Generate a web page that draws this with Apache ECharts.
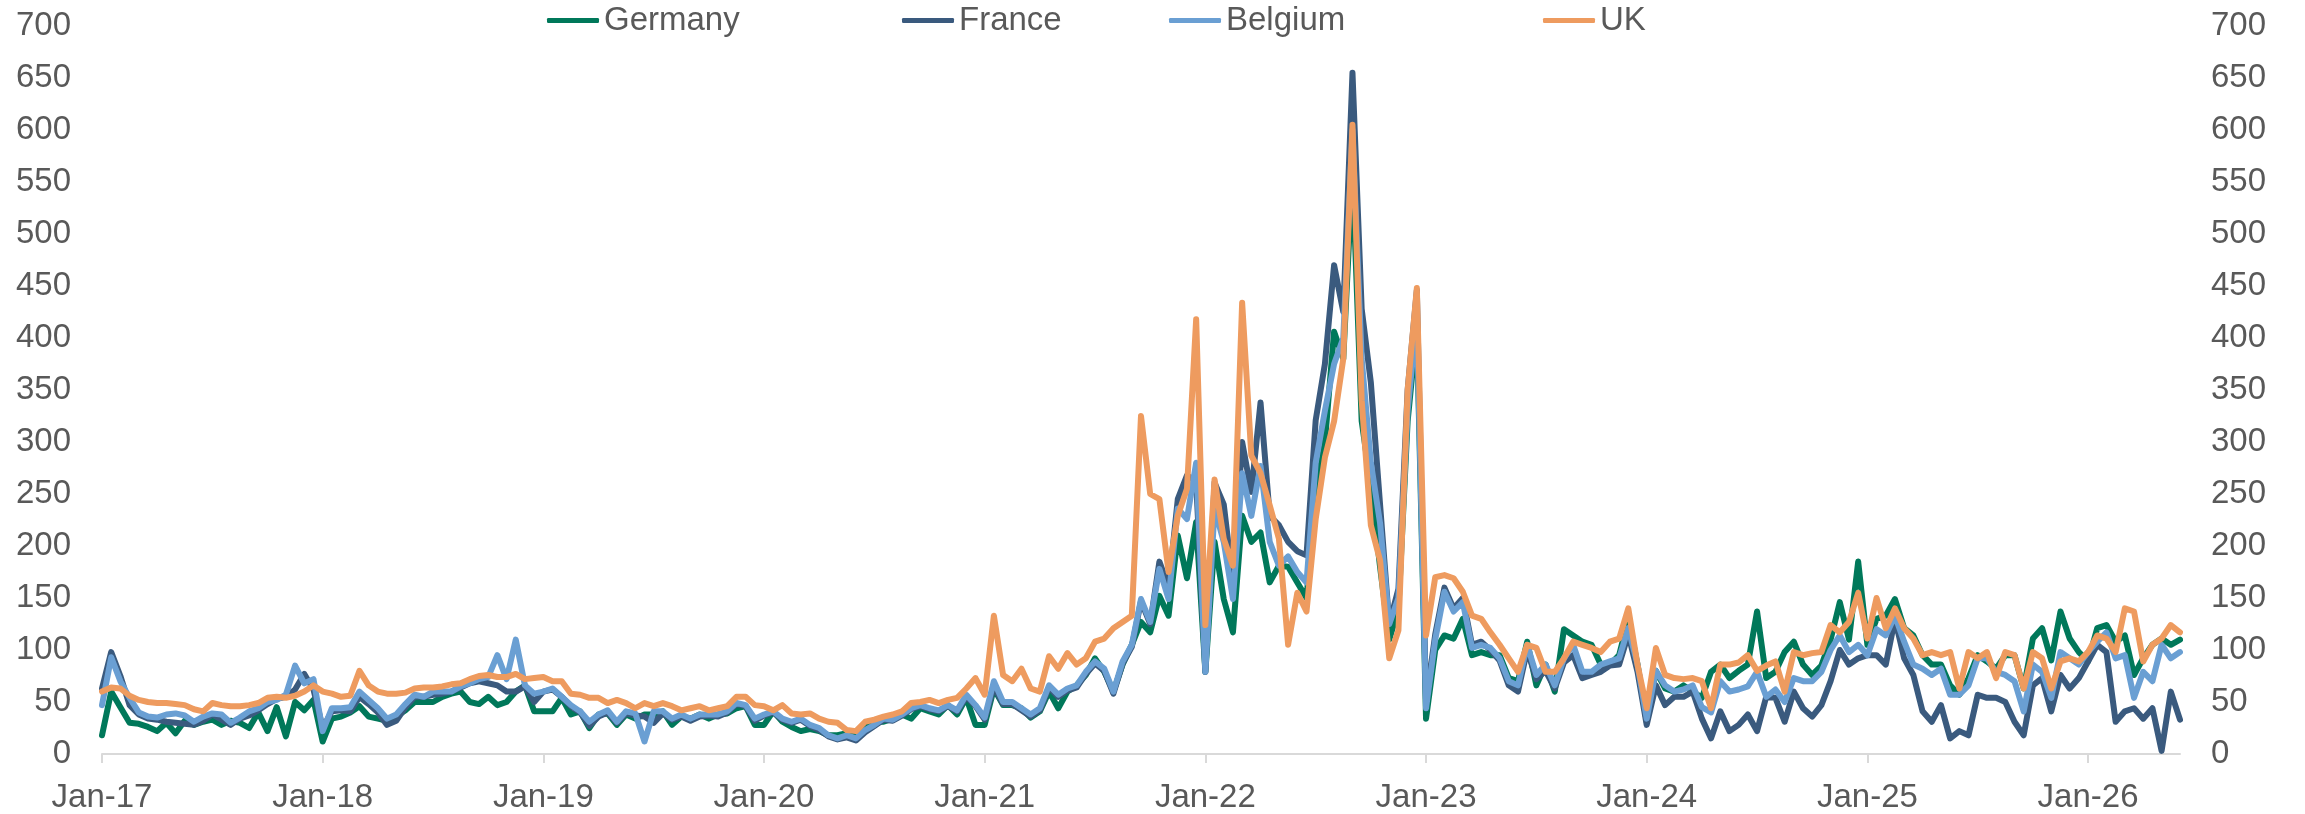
<!DOCTYPE html>
<html>
<head>
<meta charset="utf-8">
<title>Germany, France, Belgium, UK</title>
<script src="https://cdn.jsdelivr.net/npm/echarts@6/dist/echarts.min.js"></script>
<style>
    html, body { margin: 0; padding: 0; background: #ffffff; }
    #chart { width: 2305px; height: 814px; }
</style>
</head>
<body>
<div id="chart"></div>
<script>
// readings taken twice a month, first one on 1 Jan 2017
var startYear = 2017;
var perYear = 24;

var names = ['Germany', 'France', 'Belgium', 'UK'];
var yearLabels = ['Jan-17', 'Jan-18', 'Jan-19', 'Jan-20', 'Jan-21', 'Jan-22', 'Jan-23', 'Jan-24', 'Jan-25', 'Jan-26'];

var germany = [
    18, 60, 45, 30, 29, 26, 22, 30, 20, 32, 28, 31, 33, 28, 32, 30, 25, 40, 22, 45, 17, 50, 42, 52,
    12, 34, 36, 40, 46, 36, 34, 32, 36, 42, 50, 50, 50, 55, 58, 60, 50, 48, 55, 47, 50, 60, 66, 41,
    41, 41, 54, 38, 41, 25, 38, 39, 28, 38, 34, 38, 38, 41, 28, 36, 34, 38, 34, 38, 39, 44, 46, 28,
    28, 41, 31, 26, 22, 24, 22, 18, 18, 20, 20, 26, 31, 31, 34, 38, 34, 44, 41, 38, 47, 38, 54, 28,
    28, 63, 47, 47, 44, 35, 41, 60, 44, 60, 66, 76, 92, 79, 60, 86, 105, 127, 117, 152, 133, 210, 169, 223,
    79, 204, 149, 117, 229, 204, 213, 165, 181, 180, 165, 150, 250, 300, 406, 380, 560, 320, 258, 180, 110, 140, 320, 410,
    34, 100, 114, 111, 130, 95, 98, 95, 95, 73, 70, 108, 66, 86, 60, 120, 114, 108, 105, 86, 86, 95, 130, 86,
    31, 80, 63, 60, 66, 60, 54, 79, 86, 73, 80, 86, 137, 73, 79, 98, 108, 86, 76, 85, 110, 146, 110, 185,
    105, 130, 133, 149, 121, 114, 95, 86, 86, 66, 57, 73, 95, 89, 82, 95, 95, 63, 111, 121, 90, 137, 111, 98,
    89, 121, 124, 108, 114, 76, 92, 105, 111, 105, 110
];
var france = [
    63, 98, 75, 47, 38, 34, 33, 31, 30, 29, 28, 32, 38, 33, 28, 34, 37, 42, 48, 53, 55, 62, 77, 62,
    25, 41, 42, 41, 55, 48, 40, 28, 32, 45, 55, 55, 57, 58, 60, 64, 68, 70, 68, 66, 60, 60, 65, 50,
    60, 62, 55, 46, 40, 27, 36, 40, 30, 39, 37, 36, 30, 39, 33, 36, 32, 36, 37, 36, 40, 48, 46, 32,
    37, 40, 33, 30, 33, 27, 23, 17, 14, 16, 13, 21, 27, 33, 32, 37, 43, 46, 43, 41, 46, 41, 55, 46,
    33, 65, 48, 48, 42, 36, 42, 64, 55, 61, 64, 77, 87, 80, 58, 87, 103, 147, 125, 185, 160, 245, 268, 262,
    79, 261, 240, 165, 300, 252, 338, 229, 220, 204, 195, 191, 321, 375, 470, 425, 655, 428, 357, 240, 125, 159, 350, 446,
    50, 115, 160, 140, 150, 105, 108, 100, 90, 66, 60, 100, 72, 80, 63, 88, 95, 73, 76, 79, 85, 86, 115, 79,
    28, 66, 47, 55, 55, 60, 34, 15, 41, 22, 28, 38, 22, 55, 54, 31, 60, 44, 36, 47, 70, 100, 86, 92,
    95, 95, 86, 130, 92, 76, 41, 31, 47, 15, 22, 18, 57, 54, 54, 50, 31, 18, 66, 73, 41, 76, 63, 73,
    89, 105, 98, 31, 41, 44, 34, 44, 3, 60, 33
];
var belgium = [
    47, 93, 70, 54, 40, 36, 35, 38, 39, 37, 31, 36, 39, 38, 30, 35, 41, 44, 50, 52, 57, 85, 68, 72,
    22, 44, 44, 45, 60, 52, 44, 34, 38, 48, 57, 55, 60, 60, 60, 65, 68, 72, 74, 95, 72, 110, 66, 58,
    60, 63, 55, 47, 41, 31, 38, 42, 31, 41, 39, 12, 41, 41, 34, 38, 34, 38, 38, 38, 41, 49, 47, 34,
    38, 41, 34, 31, 34, 28, 25, 18, 15, 18, 15, 23, 28, 34, 33, 38, 44, 47, 44, 42, 47, 42, 57, 47,
    35, 70, 50, 50, 44, 38, 44, 66, 57, 63, 66, 79, 89, 82, 60, 89, 105, 149, 127, 178, 149, 236, 226, 280,
    79, 236, 204, 149, 270, 229, 277, 204, 181, 190, 175, 165, 280, 330, 375, 400, 600, 380, 280, 222, 125, 150, 330, 420,
    44, 110, 156, 137, 146, 102, 105, 102, 92, 70, 66, 105, 76, 86, 66, 92, 105, 79, 79, 86, 89, 92, 121, 86,
    34, 80, 66, 60, 62, 66, 45, 40, 70, 60, 62, 65, 79, 55, 62, 50, 73, 70, 70, 79, 100, 114, 98, 105,
    95, 120, 114, 133, 108, 86, 82, 76, 82, 57, 57, 66, 92, 92, 79, 76, 70, 41, 86, 79, 54, 98, 92, 86,
    98, 108, 117, 92, 95, 54, 79, 70, 105, 92, 98
];
var uk = [
    60, 64, 63, 56, 52, 50, 49, 49, 48, 47, 43, 41, 49, 47, 46, 46, 47, 49, 54, 55, 54, 56, 60, 66,
    60, 58, 55, 56, 80, 66, 60, 58, 58, 59, 63, 64, 64, 65, 67, 68, 72, 75, 76, 74, 74, 77, 72, 73,
    74, 70, 70, 58, 57, 54, 54, 49, 52, 49, 44, 49, 46, 49, 46, 42, 44, 46, 42, 44, 46, 55, 55, 47,
    46, 42, 47, 39, 38, 39, 34, 31, 30, 23, 22, 31, 33, 36, 38, 41, 49, 50, 52, 49, 52, 54, 63, 73,
    57, 133, 76, 70, 82, 63, 60, 94, 82, 97, 86, 92, 108, 111, 121, 127, 133, 325, 250, 245, 175, 229, 255, 418,
    124, 264, 207, 181, 434, 287, 270, 239, 207, 105, 155, 137, 226, 285, 320, 380, 605, 340, 220, 186, 92, 119, 350, 448,
    114, 170, 172, 169, 156, 133, 130, 117, 105, 92, 79, 105, 102, 79, 79, 92, 108, 105, 102, 98, 108, 111, 140, 86,
    44, 102, 76, 73, 72, 73, 70, 44, 86, 86, 88, 95, 80, 85, 89, 60, 98, 95, 97, 98, 124, 117, 127, 155,
    111, 150, 121, 140, 121, 111, 95, 98, 95, 98, 63, 98, 92, 98, 73, 98, 95, 63, 98, 92, 63, 89, 92, 89,
    98, 114, 111, 98, 140, 137, 89, 105, 111, 124, 117
];

var colors = ['#00785a', '#3a5a7e', '#6a9fd3', '#ee9b5f'];
var legendLeft = [547, 902, 1169, 1543];
var font = '"Liberation Sans", Arial, sans-serif';
var grey = '#595959';

var program = {
    // x is the date as a fractional year
    toPoints: function (list) {
        var out = [];
        for (var i = 0; i < list.length; i++) {
            out.push([startYear + i / perYear, list[i]]);
        }
        return out;
    },
    legendItem: function (i) {
        return {
            data: [names[i]],
            left: legendLeft[i],
            top: 4,
            padding: 0,
            icon: 'roundRect',
            itemWidth: 52,
            itemHeight: 5,
            textStyle: { fontFamily: font, fontSize: 33, color: grey }
        };
    },
    yAxisAt: function (side) {
        return {
            type: 'value',
            position: side,
            min: 0,
            max: 700,
            interval: 50,
            axisLine: { show: false },
            axisTick: { show: false },
            splitLine: { show: false },
            axisLabel: { margin: 31, fontFamily: font, fontSize: 33, color: grey }
        };
    },
    show: function () {
        var myChart = echarts.init(document.getElementById('chart'));
        var lists = [germany, france, belgium, uk];
        var series = [], legends = [];
        for (var i = 0; i < lists.length; i++) {
            legends.push(program.legendItem(i));
            series.push({
                name: names[i],
                type: 'line',
                data: program.toPoints(lists[i]),
                showSymbol: false,
                color: colors[i],
                lineStyle: { width: 6, cap: 'round', join: 'round' }
            });
        }
        var option = {
            animation: false,
            backgroundColor: '#ffffff',
            legend: legends,
            grid: { left: 102, right: 125, top: 26, bottom: 58 },
            xAxis: {
                type: 'value',
                min: startYear,
                max: startYear + (uk.length - 1) / perYear,
                interval: 1,
                splitLine: { show: false },
                axisLine: { lineStyle: { color: '#d9d9d9', width: 2 } },
                axisTick: { show: true, length: 9, lineStyle: { color: '#d9d9d9', width: 2 } },
                axisLabel: {
                    margin: 27,
                    fontFamily: font,
                    fontSize: 33,
                    color: grey,
                    formatter: function (v) { return yearLabels[Math.round(v) - startYear] || ''; }
                }
            },
            yAxis: [program.yAxisAt('left'), program.yAxisAt('right')],
            series: series
        };
        myChart.setOption(option);
    }
};
program.show();
</script>
</body>
</html>
